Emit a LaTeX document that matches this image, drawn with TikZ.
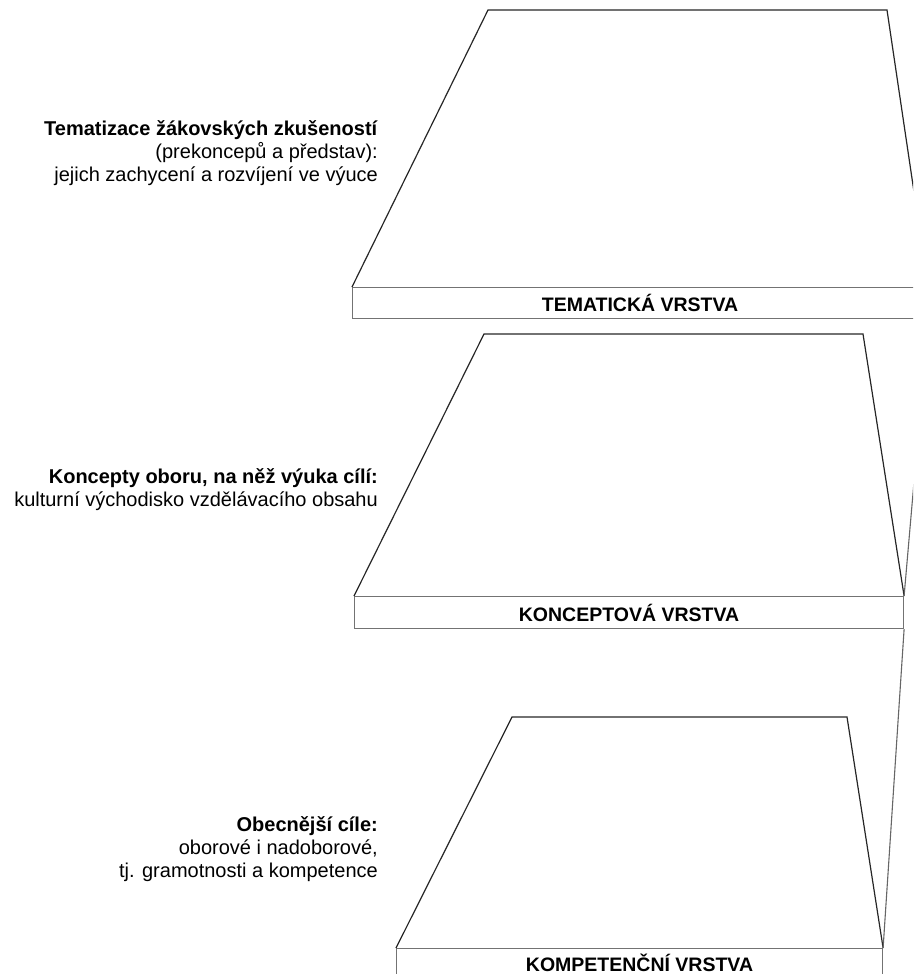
\documentclass[tikz,border=0pt]{standalone}
\usepackage{fontspec}
\setmainfont{Liberation Sans}
\usetikzlibrary{positioning}
\tikzset{
    x=1pt, y=-1pt,
    layer/.style ={rectangle, draw=black!55, line width=1.1pt, minimum height=31pt, inner sep=0pt, anchor=north west, font=\bfseries\fontsize{19.5}{23}\selectfont},
    slope/.style = {draw=black!85, line width=1.2pt, line join=miter},
    link/.style = {draw=black!60, line width=1.1pt},
    lbl/.style = {align=right, anchor=east, inner sep=0pt, font=\fontsize{20}{23}\selectfont}
}

\begin{document}
\begin{tikzpicture}
        \path[use as bounding box, clip] (0,0) rectangle (913,974);
        % the three layers
        \node[layer, minimum width=575pt] (1) at (352,287) {TEMATICKÁ VRSTVA};
        \node[layer, minimum width=549pt, minimum height=32pt] (2) at (354,596) {KONCEPTOVÁ VRSTVA};
        \node[layer, minimum width=486pt, minimum height=29pt] (3) at (396,948) {KOMPETENČNÍ VRSTVA};
        \draw[slope] (1.north west) -- (488,10) -- (887,10) -- (1.north east);
        \draw[slope] (2.north west) -- (484,334) -- (863,334) -- (2.north east);
        \draw[slope] (3.north west) -- (512,717) -- (847,717) -- (3.north east);
        \draw[link] (1.south east) -- (2.north east);
        \draw[link] (2.south east) -- (3.north east);
        % labels
        \node[lbl] (l1) at (378,153) {\textbf{Tematizace žákovských zkušeností}\\(prekoncepů a představ):\\jejich zachycení a rozvíjení ve výuce};
        \node[lbl] (l2) at (378,490) {\textbf{Koncepty oboru, na něž výuka cílí:}\\kulturní východisko vzdělávacího obsahu};
        \node[lbl] (l3) at (378,849) {\textbf{Obecnější cíle:}\\oborové i nadoborové,\\tj. gramotnosti a kompetence};
    \end{tikzpicture}
\end{document}
